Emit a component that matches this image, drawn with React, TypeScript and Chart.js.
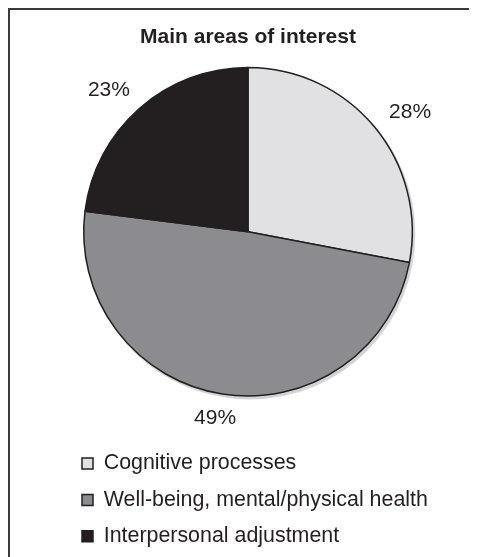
import React, { useEffect, useRef } from 'react';
import { Chart, registerables } from 'chart.js';

Chart.register(...registerables);

const TITLE = 'Main areas of interest';
const categories = ['Cognitive processes', 'Well-being, mental/physical health', 'Interpersonal adjustment'];
const values = [28, 49, 23];
const colors = ['#e1e1e3', '#8c8c90', '#231f20'];

const FONT = '"Liberation Sans", Arial, Helvetica, sans-serif';
const INK = '#231f20';

const shadowPlugin = {
  id: 'pieShadow',
  beforeDatasetsDraw(chart: any) {
    const arc = chart.getDatasetMeta(0).data[0];
    if (!arc) return;
    const { x, y, outerRadius } = arc.getProps(['x', 'y', 'outerRadius'], true);
    const ctx = chart.ctx;
    ctx.save();
    ctx.fillStyle = '#d4d4d6';
    ctx.beginPath();
    ctx.arc(x + 2, y + 2.5, outerRadius + 1, 0, Math.PI * 2);
    ctx.fill();
    ctx.restore();
  },
};

const labelPlugin = {
  id: 'outsideLabels',
  afterDatasetsDraw(chart: any) {
    const ctx = chart.ctx;
    const meta = chart.getDatasetMeta(0);
    ctx.save();
    ctx.font = `21px ${FONT}`;
    ctx.fillStyle = INK;
    ctx.textAlign = 'center';
    ctx.textBaseline = 'middle';
    meta.data.forEach((el: any, i: number) => {
      const { x, y, startAngle, endAngle, outerRadius } = el.getProps(
        ['x', 'y', 'startAngle', 'endAngle', 'outerRadius'],
        true
      );
      const mid = (startAngle + endAngle) / 2;
      const text = `${values[i]}%`;
      ctx.fillText(text, x + Math.cos(mid) * outerRadius * 1.28, y + Math.sin(mid) * outerRadius * 1.146);
    });
    ctx.restore();
  },
};

export default function App() {
  const ref = useRef<HTMLCanvasElement | null>(null);

  useEffect(() => {
    document.documentElement.style.overflow = 'hidden';
    if (!ref.current) return;
    const chart = new Chart(ref.current, {
      type: 'pie',
      data: {
        labels: categories,
        datasets: [
          {
            data: values,
            backgroundColor: colors,
            borderColor: INK,
            borderWidth: 1.5,
            hoverOffset: 0,
            offset: 0,
          },
        ],
      },
      options: {
        animation: false,
        responsive: true,
        maintainAspectRatio: false,
        events: [],
        layout: { padding: { left: 57, right: 48, top: 0, bottom: 0 } },
        plugins: {
          title: {
            display: true,
            text: TITLE,
            color: INK,
            font: { family: FONT, size: 21, weight: 'bold', lineHeight: 1.2 },
            padding: { top: 14.5, bottom: 17 },
          },
          legend: {
            display: true,
            position: 'bottom',
            align: 'start',
            title: { display: true, text: '', font: { size: 10, lineHeight: 2 }, padding: 10.5 },
            labels: {
              boxWidth: 11,
              boxHeight: 11,
              padding: 15,
              color: INK,
              font: { family: FONT, size: 21.4 },
            },
          },
          tooltip: { enabled: false },
        },
      } as any,
      plugins: [shadowPlugin, labelPlugin],
    });
    return () => chart.destroy();
  }, []);

  return (
    <div
      style={{
        boxSizing: 'border-box',
        width: 469,
        height: 549,
        borderLeft: '2px solid #3a3a3a',
        borderTop: '2px solid #3a3a3a',
        background: '#fff',
      }}
    >
      <div style={{ position: 'relative', width: 467, height: 547 }}>
        <canvas ref={ref} />
      </div>
    </div>
  );
}
